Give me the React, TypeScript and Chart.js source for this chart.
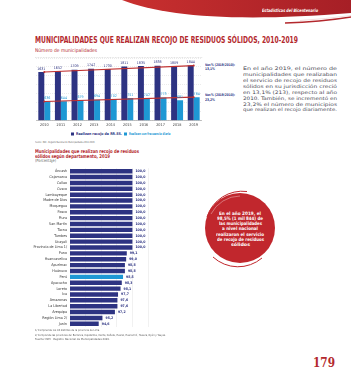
import React, { useEffect, useLayoutEffect, useRef } from "react";
import { Chart, registerables } from "chart.js";
Chart.register(...registerables);

// ---------- DATA ----------
const years = ["2010", "2011", "2012", "2013", "2014", "2015", "2016", "2017", "2018", "2019"];
const totalMunis = [1631, 1652, 1709, 1742, 1730, 1811, 1835, 1838, 1809, 1844];
const dailyMunis = [636, 644, 679, 694, 702, 751, 742, 773, 681, 784];
const trendTotal = [1631, null, null, null, null, null, null, null, null, 1844];
const trendDaily = [636, null, null, null, null, null, null, null, null, 784];
const seriesNames = ["Realizan recojo de RR.SS.", "Realizan con frecuencia diaria"];

const departments = [
  "Áncash", "Cajamarca", "Callao", "Cusco", "Lambayeque", "Madre de Dios", "Moquegua",
  "Pasco", "Piura", "San Martín", "Tacna", "Tumbes", "Ucayali", "Provincia de Lima 1/",
  "Puno", "Huancavelica", "Apurímac", "Huánuco", "Perú", "Ayacucho", "Loreto", "Ica",
  "Amazonas", "La Libertad", "Arequipa", "Región Lima 2/", "Junín",
];
const deptValues = [
  100, 100, 100, 100, 100, 100, 100, 100, 100, 100, 100, 100, 100, 100,
  99.1, 99.0, 98.8, 98.8, 98.5, 98.3, 98.1, 97.7, 97.6, 97.6, 97.2, 95.2, 94.6,
];

const FONT = "'DejaVu Sans Condensed', 'Liberation Sans Narrow', 'DejaVu Sans', sans-serif";
const RED = "#b3282d";
const NAVY = "#2d3382";
const BLUE = "#1e98d4";

// ---------- helpers ----------
type FitProps = {
  text: string; x: number; y: number; w: number; size: number;
  color?: string; weight?: number | string; italic?: boolean; family?: string;
};
function Fit({ text, x, y, w, size, color = "#333", weight = 400, italic = false, family = FONT }: FitProps) {
  const ref = useRef<HTMLSpanElement>(null);
  useLayoutEffect(() => {
    const el = ref.current;
    if (!el) return;
    el.style.transform = "none";
    const nat = el.getBoundingClientRect().width;
    if (nat > 0) el.style.transform = `scaleX(${w / nat})`;
  }, [text, w, size]);
  return (
    <span
      ref={ref}
      style={{
        position: "absolute", left: x, top: y - size * 0.6, fontSize: size, lineHeight: 1.2,
        whiteSpace: "nowrap", transformOrigin: "left center", color, fontWeight: weight as any,
        fontStyle: italic ? "italic" : "normal", fontFamily: family, display: "inline-block",
      }}
    >
      {text}
    </span>
  );
}

const barValueLabels = {
  id: "barValueLabels",
  afterDatasetsDraw(chart: any, _args: any, opts: any) {
    const ctx = chart.ctx;
    ctx.save();
    chart.data.datasets.forEach((ds: any, i: number) => {
      if (ds.type === "line") return;
      const meta = chart.getDatasetMeta(i);
      meta.data.forEach((el: any, j: number) => {
        const v = ds.data[j];
        ctx.fillStyle = ds.labelColor || "#333";
        ctx.font = opts.font;
        if (opts.horizontal) {
          ctx.textAlign = "left";
          ctx.textBaseline = "middle";
          ctx.fillText(Number(v).toFixed(1).replace(".", ","), el.x + 3, el.y);
        } else {
          ctx.textAlign = "center";
          ctx.textBaseline = "bottom";
          ctx.fillText(String(v), el.x, el.y - 1.5);
        }
      });
    });
    ctx.restore();
  },
};

function TopChart() {
  const ref = useRef<HTMLCanvasElement>(null);
  useEffect(() => {
    const chart = new Chart(ref.current as HTMLCanvasElement, {
      type: "bar",
      data: {
        labels: years,
        datasets: [
          { type: "line", label: "t1", data: trendTotal as any, borderColor: "#c0302f", borderWidth: 1.1,
            pointRadius: 1, pointBackgroundColor: "#c0302f", pointBorderWidth: 0, spanGaps: true, order: 0 } as any,
          { type: "line", label: "t2", data: trendDaily as any, borderColor: "#c0302f", borderWidth: 1.1,
            pointRadius: 1, pointBackgroundColor: "#c0302f", pointBorderWidth: 0, spanGaps: true, order: 0 } as any,
          { label: seriesNames[0], data: totalMunis, backgroundColor: NAVY, labelColor: NAVY,
            barPercentage: 1, categoryPercentage: 0.72, order: 1 } as any,
          { label: seriesNames[1], data: dailyMunis, backgroundColor: BLUE, labelColor: BLUE,
            barPercentage: 1, categoryPercentage: 0.72, order: 1 } as any,
        ],
      },
      options: {
        animation: false,
        responsive: true,
        maintainAspectRatio: false,
        layout: { padding: 0, autoPadding: false },
        plugins: {
          legend: { display: false },
          tooltip: { enabled: false },
          barValueLabels: { font: `3.6px ${FONT}`, horizontal: false },
        } as any,
        scales: {
          x: {
            grid: { display: false, drawTicks: false },
            border: { display: true, color: "#9a9a9a", width: 0.6 },
            ticks: { font: { size: 3.8, family: FONT }, color: "#444", padding: 2.5 },
          },
          y: {
            min: 0, max: 2100,
            ticks: { display: false, stepSize: 300 },
            grid: { color: "#d6d6d6", lineWidth: 0.5, drawTicks: false },
            border: { display: false, dash: [1, 1] },
          },
        },
      },
      plugins: [barValueLabels],
    });
    return () => chart.destroy();
  }, []);
  return (
    <div style={{ position: "absolute", left: 36, top: 58, width: 166, height: 72 }}>
      <canvas ref={ref} />
    </div>
  );
}

function DeptChart() {
  const ref = useRef<HTMLCanvasElement>(null);
  useEffect(() => {
    const chart = new Chart(ref.current as HTMLCanvasElement, {
      type: "bar",
      data: {
        labels: departments,
        datasets: [
          {
            label: "%", data: deptValues,
            backgroundColor: departments.map((d) => (d === "Perú" ? BLUE : NAVY)),
            labelColor: NAVY, barPercentage: 0.76, categoryPercentage: 1,
          } as any,
        ],
      },
      options: {
        indexAxis: "y",
        animation: false,
        responsive: true,
        maintainAspectRatio: false,
        layout: { padding: { right: 12, top: 0, bottom: 0, left: 0 }, autoPadding: false },
        plugins: {
          legend: { display: false },
          tooltip: { enabled: false },
          barValueLabels: { font: `bold 3.5px ${FONT}`, horizontal: true },
        } as any,
        scales: {
          x: {
            min: 90, max: 102.5,
            ticks: { display: false, stepSize: 2.5 },
            grid: { color: "#e2e2e2", lineWidth: 0.5, drawTicks: false },
            border: { display: false },
            afterFit: (axis: any) => { axis.height = 0; },
          },
          y: {
            grid: { display: false, drawTicks: false },
            border: { display: false },
            ticks: { font: { size: 3.7, family: FONT }, color: "#333", padding: 3, autoSkip: false },
            afterFit: (axis: any) => { axis.width = 70; },
          },
        },
      },
      plugins: [barValueLabels],
    });
    return () => chart.destroy();
  }, []);
  return (
    <div style={{ position: "absolute", left: 0, top: 163, width: 160, height: 169 }}>
      <canvas ref={ref} />
    </div>
  );
}

const paragraph = [
  "En el año 2019, el número de",
  "municipalidades que realizaban",
  "el servicio de recojo de residuos",
  "sólidos en su jurisdicción creció",
  "en 13,1% (213), respecto al año",
  "2010. También, se incrementó en",
  "23,2% el número de municipios",
  "que realizan el recojo diariamente.",
];
const paraY = [69, 75, 81, 86.8, 92.7, 98.6, 104.5, 110.3];

const circleLines = [
  "En el año 2019, el",
  "98,5% (1 mil 844) de",
  "las municipalidades",
  "a nivel nacional",
  "realizaron el servicio",
  "de recojo de residuos",
  "sólidos",
];
const circleW = [42, 46, 43, 36, 48, 47, 19];

export default function App() {
  return (
    <div style={{ position: "fixed", left: 0, top: 0, width: 351, height: 380, background: "#fff", overflow: "hidden", fontFamily: FONT }}>
      <svg width={351} height={380} style={{ position: "absolute", left: 0, top: 0 }}>
        <defs>
          <linearGradient id="hg" x1="0" x2="1" y1="0" y2="0">
            <stop offset="0" stopColor="#c9302f" />
            <stop offset="1" stopColor="#a61f26" />
          </linearGradient>
        </defs>
        <path d="M122,0 C165,17 240,22 351,13 L351,0 Z" fill="url(#hg)" />
        <path d="M285,23 Q320,22 351,17" stroke="#b3282d" strokeWidth={1.3} fill="none" />
        <path d="M300,20.5 Q325,19 351,15.5" stroke="#f3d5d5" strokeWidth={0.8} fill="none" />
        {/* circle */}
        <circle cx={240} cy={228} r={35} fill="#c1272d" />
        <path d="M207,217 A37,37 0 0 1 247,191.5" stroke="#c1272d" strokeWidth={1} fill="none" />
        <path d="M213,257 A37,37 0 0 0 262,258" stroke="#c1272d" strokeWidth={1} fill="none" />
        <path d="M211,214 A33,33 0 0 1 240,196" stroke="#ffffff" strokeOpacity={0.6} strokeWidth={0.6} fill="none" />
        {/* legend squares */}
        <rect x={71} y={132.5} width={3} height={3} fill={NAVY} />
        <rect x={124} y={132.5} width={3} height={3} fill={BLUE} />
        {/* dotted rule */}
        <line x1={35} y1={57.5} x2={203} y2={57.5} stroke="#bbb" strokeWidth={0.5} strokeDasharray="0.8 0.8" />
      </svg>

      <Fit text="Estadísticas del Bicentenario" x={262} y={11} w={56} size={4.5} color="#fff" weight={700} italic />
      <Fit text="MUNICIPALIDADES QUE REALIZAN RECOJO DE RESIDUOS SÓLIDOS, 2010-2019" x={35} y={40} w={263} size={9} color={RED} weight={700} />
      <Fit text="Número de municipalidades" x={35} y={50} w={62} size={5} color={RED} />

      <TopChart />

      <Fit text="Var.% (2019/2010):" x={205} y={65} w={30} size={3.6} color={NAVY} weight={700} />
      <Fit text="13,1%" x={205} y={69.5} w={10} size={3.6} color={NAVY} weight={700} />
      <Fit text="Var.% (2019/2010):" x={205} y={95.5} w={30} size={3.6} color={NAVY} weight={700} />
      <Fit text="23,2%" x={205} y={100} w={10} size={3.6} color={NAVY} weight={700} />

      <Fit text={seriesNames[0]} x={75.5} y={134} w={46} size={3.8} color={NAVY} weight={700} />
      <Fit text={seriesNames[1]} x={128.5} y={134} w={41.5} size={3.8} color={BLUE} weight={700} />
      <Fit text="Fuente: INEI - Registro Nacional de Municipalidades 2011-2020." x={35} y={143} w={60} size={2.6} color="#555" />

      {paragraph.map((t, i) => (
        <Fit key={i} text={t} x={243} y={paraY[i]} w={94} size={4.7} color="#4a4a55" />
      ))}

      <Fit text="Municipalidades que realizan recojo de residuos" x={35} y={150.7} w={104} size={5} color={RED} weight={600} />
      <Fit text="sólidos según departamento, 2019" x={35} y={155.7} w={75} size={5} color={RED} weight={600} />
      <Fit text="(Porcentaje)" x={35} y={160.7} w={21} size={4.3} color="#666" />

      <DeptChart />

      {circleLines.map((t, i) => (
        <Fit key={i} text={t} x={240 - circleW[i] / 2} y={213.3 + i * 5.3} w={circleW[i]} size={4.6} color="#fff" weight={700} />
      ))}

      <Fit text="1/ Comprende los 43 distritos de la provincia de Lima." x={35} y={331} w={65} size={2.8} color="#555" />
      <Fit text="2/ Comprende las provincias de: Barranca, Cajatambo, Canta, Cañete, Huaral, Huarochirí, Huaura, Oyón y Yauyos." x={35} y={335.2} w={131} size={2.8} color="#555" />
      <Fit text="Fuente: INEI - Registro Nacional de Municipalidades 2020." x={35} y={339.4} w={75} size={2.8} color="#555" />

      <Fit text="179" x={313} y={362.5} w={22} size={13} color={RED} weight={700} family="'DejaVu Serif', 'Liberation Serif', serif" />
    </div>
  );
}
